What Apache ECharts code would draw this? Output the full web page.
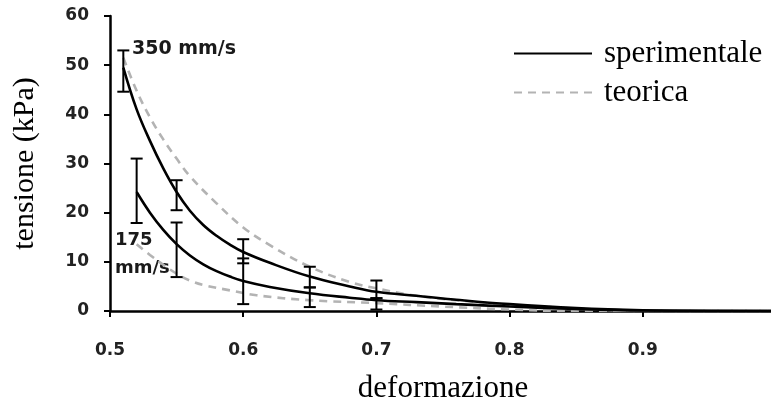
<!DOCTYPE html>
<html>
<head>
<meta charset="utf-8">
<script src="https://cdn.jsdelivr.net/npm/echarts@6/dist/echarts.min.js"></script>
<style>
  html, body { margin: 0; padding: 0; background: #fff; }
  #chart { width: 771px; height: 400px; }
</style>
</head>
<body>
<div id="chart"></div>
<script>
// curve data (deformazione -> tensione kPa)
var exp350X = [0.51, 0.52, 0.53, 0.54, 0.55, 0.56, 0.57, 0.58, 0.59, 0.6, 0.62, 0.65, 0.68, 0.7, 0.73, 0.76, 0.8, 0.85, 0.9, 0.95, 1.0];
var exp350Y = [49.5, 41.0, 34.6, 29.0, 24.2, 20.4, 17.5, 15.3, 13.5, 12.0, 9.8, 7.0, 5.0, 3.9, 3.1, 2.3, 1.4, 0.6, 0.15, 0, 0];

var exp175X = [0.52, 0.53, 0.54, 0.55, 0.56, 0.57, 0.58, 0.59, 0.6, 0.62, 0.65, 0.68, 0.7, 0.73, 0.76, 0.8, 0.85, 0.9, 1.0];
var exp175Y = [24.2, 20.0, 16.5, 13.6, 11.3, 9.5, 8.1, 7.0, 6.1, 4.9, 3.6, 2.7, 2.2, 1.8, 1.4, 0.9, 0.4, 0.1, 0];

var teo350X = [0.51, 0.52, 0.53, 0.54, 0.55, 0.56, 0.58, 0.6, 0.62, 0.65, 0.68, 0.7, 0.73, 0.76, 0.8, 0.85, 0.9, 1.0];
var teo350Y = [51.5, 44.8, 39.4, 34.9, 31.0, 27.4, 21.9, 17.0, 13.4, 9.0, 5.9, 4.6, 3.1, 2.2, 1.3, 0.5, 0, 0];

var teo175X = [0.52, 0.53, 0.54, 0.55, 0.56, 0.57, 0.59, 0.61, 0.65, 0.7, 0.75, 0.8, 0.85, 1.0];
var teo175Y = [13.6, 11.4, 9.4, 7.6, 6.2, 5.3, 4.2, 3.2, 2.2, 1.6, 0.9, 0.3, 0, 0];

// error bars: [x, min, max]
var bars350 = [[0.51, 44.6, 53], [0.55, 20.5, 26.6], [0.6, 9.7, 14.6], [0.65, 4.8, 9.0], [0.7, 2.6, 6.2]];
var bars175 = [[0.52, 17.9, 31], [0.55, 6.9, 18], [0.6, 1.4, 10.7], [0.65, 0.8, 4.8], [0.7, 0.3, 2.6]];

var legendNames = ['sperimentale', 'teorica'];

function zip(xs, ys) {
    return xs.map(function (x, i) { return [x, ys[i]]; });
}

var sansBold = '"DejaVu Sans", sans-serif';
var serif = '"Liberation Serif", "Times New Roman", serif';

function errorBar(params, api) {
    var x = api.value(0);
    var lo = api.coord([x, api.value(1)]);
    var hi = api.coord([x, api.value(2)]);
    var w = 6;
    var st = { stroke: '#000', lineWidth: 2 };
    return {
        type: 'group',
        children: [
            { type: 'line', shape: { x1: lo[0], y1: lo[1], x2: hi[0], y2: hi[1] }, style: st },
            { type: 'line', shape: { x1: lo[0] - w, y1: lo[1], x2: lo[0] + w, y2: lo[1] }, style: st },
            { type: 'line', shape: { x1: hi[0] - w, y1: hi[1], x2: hi[0] + w, y2: hi[1] }, style: st }
        ]
    };
}

var chart = echarts.init(document.getElementById('chart'));

var expLine = { color: '#000', width: 2.6 };
var teoLine = { color: '#b3b3b3', width: 2.6, type: [8, 6] };

var option = {
    animation: false,
    grid: { left: 110, right: -5, top: 16, bottom: 89, containLabel: false, outerBoundsMode: 'none' },
    legend: {
        data: legendNames,
        orient: 'vertical',
        left: 508,
        top: 33,
        itemWidth: 78,
        itemHeight: 14,
        itemGap: 8,
        itemStyle: { opacity: 0 },
        textStyle: { fontFamily: serif, fontSize: 31, color: '#000', padding: [0, 0, 0, 7] }
    },
    xAxis: {
        type: 'value',
        min: 0.5,
        max: 1.0,
        interval: 0.1,
        name: 'deformazione',
        nameLocation: 'middle',
        nameGap: 62,
        nameTextStyle: { fontFamily: serif, fontSize: 31, color: '#000' },
        axisLine: { lineStyle: { color: '#000', width: 2.5 } },
        axisTick: { show: true, length: 6, lineStyle: { color: '#000', width: 2 } },
        axisLabel: {
            margin: 31, showMaxLabel: false,
            fontFamily: sansBold, fontWeight: 'bold', fontSize: 17, color: '#222',
            formatter: function (v) { return v.toFixed(1); }
        },
        splitLine: { show: false }
    },
    yAxis: {
        type: 'value',
        min: 0,
        max: 60,
        interval: 10,
        name: 'tensione (kPa)',
        nameLocation: 'middle',
        nameGap: 70,
        nameTextStyle: { fontFamily: serif, fontSize: 30, color: '#000' },
        axisLine: { show: true, lineStyle: { color: '#000', width: 2.5 } },
        axisTick: { show: true, length: 6, lineStyle: { color: '#000', width: 2 } },
        axisLabel: { margin: 21, fontFamily: sansBold, fontWeight: 'bold', fontSize: 17, color: '#222' },
        splitLine: { show: false }
    },
    graphic: [
        { type: 'text', left: 132, top: 40, style: { text: '350 mm/s', font: 'bold 19px ' + sansBold, fill: '#1a1a1a' } },
        { type: 'text', left: 115, top: 231, style: { text: '175', font: 'bold 18px ' + sansBold, fill: '#1a1a1a' } },
        { type: 'text', left: 115, top: 259, style: { text: 'mm/s', font: 'bold 18px ' + sansBold, fill: '#1a1a1a' } }
    ],
    series: [
        { name: 'teorica', type: 'line', data: zip(teo350X, teo350Y), smooth: 0.4, symbol: 'none', lineStyle: teoLine, itemStyle: { color: '#b3b3b3' }, z: 3 },
        { name: 'teorica', type: 'line', data: zip(teo175X, teo175Y), smooth: 0.4, symbol: 'none', lineStyle: teoLine, itemStyle: { color: '#b3b3b3' }, z: 3 },
        { name: 'sperimentale', type: 'line', data: zip(exp350X, exp350Y), smooth: 0.4, symbol: 'none', lineStyle: expLine, itemStyle: { color: '#000' }, z: 4 },
        { name: 'sperimentale', type: 'line', data: zip(exp175X, exp175Y), smooth: 0.4, symbol: 'none', lineStyle: expLine, itemStyle: { color: '#000' }, z: 4 },
        { type: 'custom', renderItem: errorBar, data: bars350, encode: { x: 0, y: [1, 2] }, z: 5 },
        { type: 'custom', renderItem: errorBar, data: bars175, encode: { x: 0, y: [1, 2] }, z: 5 }
    ]
};

chart.setOption(option);
</script>
</body>
</html>
